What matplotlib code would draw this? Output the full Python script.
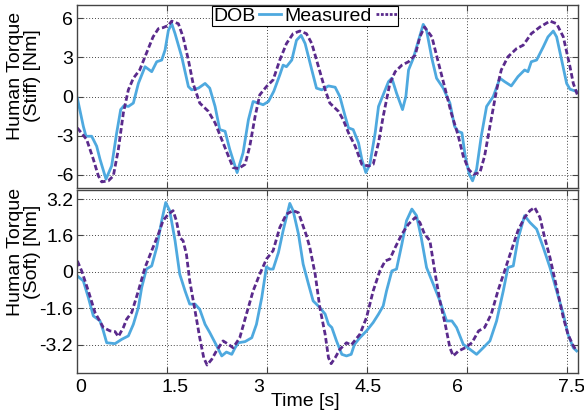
import matplotlib
matplotlib.use("Agg")
import matplotlib.pyplot as plt
import matplotlib.transforms as mtransforms
from matplotlib.lines import Line2D

plt.rcParams['font.family'] = ['Liberation Sans', 'DejaVu Sans']
plt.rcParams['font.size'] = 14

# === Data =====================================================================

# top panel: stiff, DOB estimate (solid blue)
stiff_dob_t = [0.155, 0.245, 0.285, 0.37, 0.445, 0.495, 0.585, 0.67, 0.745, 0.805,
               0.855, 0.92, 0.995, 1.07, 1.17, 1.27, 1.345, 1.42, 1.47, 1.52,
               1.57, 1.62, 1.72, 1.82, 1.87, 1.97, 2.07, 2.14, 2.22, 2.29,
               2.37, 2.44, 2.55, 2.64, 2.72, 2.79, 2.87, 2.94, 3.02, 3.10,
               3.19, 3.24, 3.29, 3.37, 3.44, 3.51, 3.57, 3.67, 3.74, 3.82,
               3.92, 4.02, 4.09, 4.17, 4.22, 4.29, 4.37, 4.42, 4.48, 4.54,
               4.62, 4.67, 4.74, 4.82, 4.87, 4.94, 5.03, 5.08, 5.12, 5.19,
               5.27, 5.34, 5.39, 5.47, 5.54, 5.64, 5.74, 5.81, 5.86, 5.92,
               5.97, 6.03, 6.08, 6.14, 6.21, 6.29, 6.39, 6.49, 6.56, 6.66,
               6.76, 6.86, 6.91, 6.96, 7.04, 7.14, 7.21, 7.29, 7.34, 7.41,
               7.49, 7.54, 7.64]
stiff_dob = [-0.12, -2.28, -3.04, -3.04, -3.8, -4.8, -6.32, -5.3, -2.78, -1.0,
             -0.7, -0.76, -0.5, 1.0, 2.28, 1.9, 2.66, 2.79, 3.55, 5.06,
             5.57, 4.81, 3.04, 0.76, 0.51, 0.64, 1.0, 0.64, -0.76, -2.53,
             -2.66, -4.05, -5.82, -4.3, -1.77, -0.38, -0.5, -0.63, -0.38, 0.4,
             1.65, 2.4, 2.28, 2.79, 4.3, 4.68, 4.05, 2.03, 0.64, 0.51,
             0.81, 0.71, 0.0, -1.52, -2.4, -2.53, -3.54, -4.81, -5.82, -5.19,
             -2.78, -0.76, 0.13, 1.14, 1.4, 0.26, -1.0, 0.0, 2.03, 2.91,
             4.3, 5.52, 5.06, 2.91, 1.4, 0.64, -0.5, -2.28, -2.66, -2.78,
             -4.56, -5.95, -6.45, -5.57, -3.04, -0.76, 0.0, 1.4, 1.14, 0.81,
             1.52, 2.03, 1.9, 2.66, 2.79, 3.8, 4.56, 5.01, 4.56, 2.91,
             1.0, 0.56, 0.38]

# top panel: stiff, measured (dashed purple)
stiff_meas_t = [0.155, 0.295, 0.395, 0.47, 0.52, 0.62, 0.695, 0.77, 0.845, 0.92,
                0.995, 1.09, 1.19, 1.29, 1.37, 1.44, 1.52, 1.57, 1.67, 1.74,
                1.82, 1.89, 1.99, 2.12, 2.22, 2.32, 2.42, 2.49, 2.57, 2.67,
                2.74, 2.82, 2.89, 2.99, 3.09, 3.19, 3.29, 3.39, 3.49, 3.59,
                3.67, 3.77, 3.87, 3.94, 4.07, 4.14, 4.22, 4.32, 4.42, 4.52,
                4.59, 4.67, 4.74, 4.84, 4.92, 5.02, 5.12, 5.22, 5.29, 5.36,
                5.47, 5.57, 5.66, 5.76, 5.86, 5.94, 6.02, 6.09, 6.19, 6.26,
                6.34, 6.44, 6.51, 6.61, 6.74, 6.84, 6.96, 7.09, 7.24, 7.34,
                7.44, 7.54, 7.59, 7.66]
stiff_meas = [-2.4, -3.29, -4.8, -6.07, -6.53, -6.45, -6.07, -4.05, -1.26, 0.51,
              1.4, 2.03, 3.3, 4.56, 5.19, 5.27, 5.44, 5.77, 5.57, 4.56,
              2.79, 1.0, -0.5, -1.14, -2.02, -3.29, -4.56, -5.44, -5.51, -5.19,
              -3.8, -1.52, 0.13, 0.76, 1.27, 2.79, 4.05, 4.81, 5.01, 4.81,
              4.05, 2.28, 0.51, -0.5, -1.14, -1.77, -2.78, -3.8, -5.19, -5.32,
              -5.19, -3.54, -1.52, 1.0, 1.9, 2.4, 2.66, 3.17, 4.56, 5.32,
              4.56, 2.54, 0.76, -1.26, -2.91, -4.56, -5.57, -5.95, -5.82, -4.56,
              -2.28, 0.51, 2.03, 3.04, 3.67, 3.93, 4.81, 5.32, 5.77, 5.57,
              4.56, 2.28, 1.0, 0.0]

# bottom panel: soft, DOB estimate (solid blue)
soft_dob_t = [0.155, 0.245, 0.32, 0.395, 0.495, 0.545, 0.595, 0.72, 0.82, 0.92,
              0.995, 1.07, 1.12, 1.19, 1.27, 1.345, 1.42, 1.48, 1.54, 1.62,
              1.69, 1.77, 1.84, 1.92, 1.99, 2.07, 2.14, 2.22, 2.32, 2.39,
              2.47, 2.52, 2.57, 2.67, 2.77, 2.84, 2.92, 2.99, 3.04, 3.09,
              3.17, 3.24, 3.34, 3.39, 3.47, 3.54, 3.62, 3.69, 3.79, 3.87,
              3.92, 3.97, 4.04, 4.12, 4.19, 4.26, 4.31, 4.39, 4.49, 4.59,
              4.67, 4.74, 4.79, 4.87, 4.94, 5.02, 5.09, 5.17, 5.24, 5.31,
              5.39, 5.49, 5.59, 5.69, 5.77, 5.84, 5.94, 6.04, 6.14, 6.24,
              6.34, 6.44, 6.54, 6.61, 6.69, 6.76, 6.86, 6.94, 7.04, 7.14,
              7.24, 7.34, 7.44, 7.51, 7.59, 7.64]
soft_dob = [-0.18, -0.40, -1.13, -1.94, -2.16, -2.60, -3.12, -3.16, -2.97, -2.82,
            -2.31, -1.57, -0.69, 0.12, 0.26, 1.07, 2.25, 3.05, 2.69, 1.37,
            -0.10, -0.84, -1.42, -1.42, -1.65, -2.31, -2.67, -3.12, -3.70, -3.53,
            -3.63, -3.34, -3.12, -3.07, -2.90, -2.31, -1.13, 0.22, 0.12, 0.12,
            0.85, 1.81, 3.01, 2.69, 1.66, 0.34, -0.54, -1.28, -1.57, -1.86,
            -2.31, -2.45, -3.04, -3.63, -3.70, -3.63, -3.19, -2.90, -2.60, -2.23,
            -1.86, -1.50, -0.84, 0.04, 0.12, 1.22, 2.25, 2.76, 2.47, 1.51,
            0.19, -0.54, -1.28, -2.16, -2.16, -2.45, -3.19, -3.41, -3.63, -3.34,
            -3.04, -2.16, -0.84, 0.19, 0.26, 1.44, 2.47, 2.17, 1.88, 1.07,
            0.19, -0.84, -1.86, -2.75, -3.34, -3.48]

# bottom panel: soft, measured (dashed purple)
soft_meas_t = [0.155, 0.22, 0.32, 0.42, 0.545, 0.645, 0.72, 0.77, 0.845, 0.895,
               0.97, 1.07, 1.17, 1.27, 1.37, 1.44, 1.52, 1.59, 1.64, 1.69,
               1.74, 1.79, 1.84, 1.92, 1.99, 2.05, 2.10, 2.17, 2.24, 2.34,
               2.42, 2.49, 2.59, 2.69, 2.79, 2.89, 2.99, 3.09, 3.19, 3.29,
               3.39, 3.47, 3.59, 3.64, 3.72, 3.79, 3.87, 3.92, 3.96, 4.02,
               4.09, 4.19, 4.26, 4.39, 4.49, 4.59, 4.69, 4.77, 4.84, 4.92,
               5.02, 5.12, 5.22, 5.29, 5.36, 5.44, 5.52, 5.59, 5.67, 5.74,
               5.79, 5.87, 5.97, 6.07, 6.17, 6.26, 6.36, 6.46, 6.56, 6.66,
               6.76, 6.86, 6.94, 7.01, 7.09, 7.16, 7.24, 7.34, 7.44, 7.51,
               7.59, 7.64]
soft_meas = [0.48, 0.04, -0.84, -1.79, -2.45, -2.60, -2.63, -2.85, -2.45, -2.08,
             -1.79, -0.84, 0.19, 0.93, 1.66, 2.25, 2.54, 2.69, 2.25, 1.51,
             1.37, 0.78, -0.40, -1.72, -2.90, -3.78, -4.10, -3.85, -3.48, -3.04,
             -3.19, -3.34, -2.90, -1.86, -0.84, -0.10, 0.56, 0.93, 1.95, 2.54,
             2.69, 2.60, 1.59, 1.07, -0.10, -1.57, -2.75, -3.78, -4.04, -3.78,
             -3.41, -3.12, -3.22, -2.75, -2.01, -0.84, 0.04, 0.48, 0.56, 1.07,
             1.66, 2.10, 2.39, 2.17, 1.66, 1.37, -0.10, -1.28, -2.31, -3.34,
             -3.70, -3.48, -3.34, -3.12, -2.60, -2.45, -1.86, -0.84, 0.04, 0.93,
             1.81, 2.39, 2.69, 2.83, 2.39, 1.51, 0.63, -0.69, -2.01, -2.75,
             -3.26, -3.48]

grid_x = [1.5, 3.0, 4.5, 6.0, 7.5]
xtick_labels = ['0', '1.5', '3', '4.5', '6', '7.5']
stiff_ticks = [-6, -3, 0, 3, 6]
soft_ticks = [-3.2, -1.6, 0, 1.6, 3.2]
soft_tick_labels = ['-3.2', '-1.6', '0', '1.6', '3.2']

# where the exported figure put its time tick labels (data units, a bit off the grid)
xtick_label_pos = [0.205, 1.62, 2.88, 4.51, 5.855, 7.56]

# === Style ====================================================================

BLUE = '#4ea9df'
PURPLE = '#5a2a8c'
SPINE = '#444444'


def style_axis(ax, yticks, ylabels, ylim):
    """Box, inward ticks on all sides and dotted grid."""
    ax.set_xlim(0.155, 7.66)
    ax.set_ylim(*ylim)
    ax.set_xticks(grid_x)
    ax.set_xticklabels([])
    ax.set_yticks(yticks)
    ax.set_yticklabels(ylabels)
    ax.tick_params(direction='in', length=4, width=0.8, color=SPINE,
                   top=True, right=True, pad=3)
    ax.grid(True, linestyle=(0, (1, 2)), color='#444444', linewidth=0.7)
    for sp in ax.spines.values():
        sp.set_color(SPINE)
        sp.set_linewidth(1.0)


fig = plt.figure(figsize=(5.84, 4.18), dpi=100)
ax_top = fig.add_axes([0.1324, 0.5502, 0.8573, 0.4378])
ax_bot = fig.add_axes([0.1324, 0.1077, 0.8573, 0.4378])

ax_top.plot(stiff_dob_t, stiff_dob, color=BLUE, linewidth=2.0)
ax_top.plot(stiff_meas_t, stiff_meas, color=PURPLE, linewidth=2.0,
            linestyle=(0, (2, 1)))
style_axis(ax_top, stiff_ticks, [str(v) for v in stiff_ticks], (-7.0, 7.0))

ax_bot.plot(soft_dob_t, soft_dob, color=BLUE, linewidth=2.0)
ax_bot.plot(soft_meas_t, soft_meas, color=PURPLE, linewidth=2.0,
            linestyle=(0, (2, 1)))
style_axis(ax_bot, soft_ticks, soft_tick_labels, (-4.45, 3.6))

# time labels placed as in the reference
trans = mtransforms.blended_transform_factory(ax_bot.transData, ax_bot.transAxes)
for pos, lab in zip(xtick_label_pos, xtick_labels):
    ax_bot.text(pos, -0.035, lab, transform=trans, ha='center', va='top',
                fontsize=14, clip_on=False)

fig.text(305 / 584, 1 - 402 / 418, 'Time [s]', ha='center', va='center', fontsize=14)
fig.text(24 / 584, 1 - 76 / 418, 'Human Torque\n(Stiff) [Nm]', rotation=90,
         ha='center', va='center', multialignment='center', fontsize=14,
         linespacing=1.0)
fig.text(24 / 584, 1 - 252 / 418, 'Human Torque\n(Soft) [Nm]', rotation=90,
         ha='center', va='center', multialignment='center', fontsize=14,
         linespacing=1.0)

handles = [Line2D([], [], color=BLUE, linewidth=2.0),
           Line2D([], [], color=PURPLE, linewidth=2.0, linestyle=(0, (1, 0.6)))]
leg = fig.legend(handles, ['DOB', 'Measured'], loc='upper left',
                 bbox_to_anchor=(212 / 584, 1 - 6 / 418), ncol=2,
                 markerfirst=False, fontsize=14, frameon=True, fancybox=False,
                 framealpha=1, edgecolor='black', borderpad=0.05,
                 handlelength=1.1, handletextpad=0.2, columnspacing=0.2,
                 borderaxespad=0)
leg.get_frame().set_linewidth(0.8)

fig.savefig('out.png', dpi=100)
